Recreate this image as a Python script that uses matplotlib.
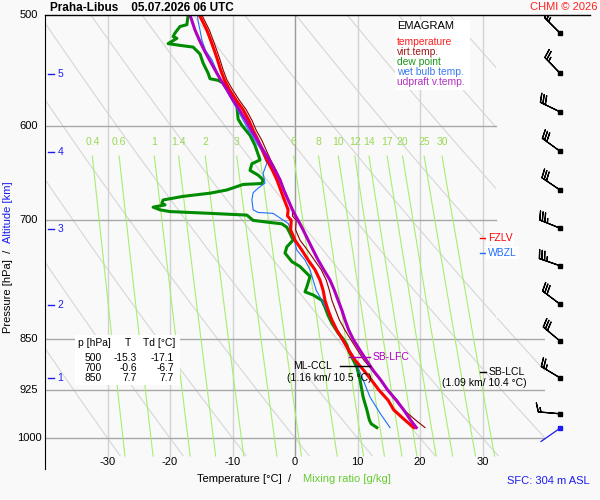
import numpy as np
import matplotlib
matplotlib.use("Agg")
import matplotlib.pyplot as plt
from matplotlib.patches import Polygon, Rectangle
from matplotlib.lines import Line2D
from matplotlib.ticker import NullLocator
from matplotlib.transforms import blended_transform_factory

plt.rcParams['font.family'] = ['Liberation Sans', 'DejaVu Sans']

# ---- sounding ----
P_LEV = [500, 512.5, 521, 530, 538, 547, 556, 565, 575, 584, 594, 604, 614, 624, 634,
         645, 655, 666, 677, 688, 695, 700, 711, 723, 735, 747, 759, 772, 785, 798,
         811, 824, 838, 852, 866, 880, 895, 909, 924, 940, 955, 971, 983]
TEMP = [-15.3, -14.1, -13.5, -12.9, -12.4, -11.9, -11.3, -10.5, -9.4, -8.3, -7.4, -6.7,
        -5.9, -5.2, -4.5, -3.6, -2.9, -2.3, -1.7, -1.1, -1.2, -0.6, -0.7, 0.0, 1.1, 2.1,
        3.2, 4.0, 4.5, 4.8, 5.3, 5.9, 6.7, 7.7, 8.6, 9.6, 11.0, 12.2, 13.4, 14.9, 15.8,
        17.6, 19.0]
VIRT = [-14.9, -13.7, -13.1, -12.5, -12.0, -11.5, -10.9, -10.0, -8.9, -7.8, -6.9, -6.2,
        -5.3, -4.6, -3.9, -3.0, -2.3, -1.7, -1.0, -0.4, -0.4, 0.2, 0.1, 0.8, 2.0, 3.1,
        4.2, 5.0, 5.5, 5.9, 6.5, 7.1, 8.0, 9.0, 10.0, 11.0, 12.4, 13.6, 14.8, 16.4, 17.4,
        19.3, 20.8]
PARCEL = [-16.8, -16.0, -15.3, -14.5, -13.7, -12.8, -11.9, -10.9, -9.9, -8.9, -7.9, -7.0,
          -6.0, -5.1, -4.1, -3.2, -2.4, -1.8, -1.1, -0.4, 0.1, 0.5, 1.3, 2.1, 2.9, 3.7,
          4.6, 5.6, 6.3, 6.9, 7.5, 8.0, 8.6, 9.4, 10.4, 11.4, 12.5, 13.7, 14.8, 16.2, 17.4,
          18.5, 19.4]

TW_P = [500, 505.5, 512.5, 521, 530, 538, 547, 556, 565, 575, 584, 594, 604, 614, 624,
        637.5, 648, 658.5, 664, 669, 677, 688, 691, 692, 703.5, 715, 735, 747, 759, 772,
        785, 798, 811, 824, 838, 852, 866, 884, 909, 935, 960, 983]
WETBULB = [-15.6, -15.5, -15.2, -14.9, -14.3, -13.3, -12.6, -11.9, -11.0, -10.1, -9.2,
           -8.3, -7.4, -6.4, -5.4, -4.5, -5.1, -4.8, -5.9, -6.7, -6.9, -6.7, -5.9, -3.5,
           -1.1, -0.4, 0.3, 1.6, 2.4, 2.9, 3.4, 4.3, 5.1, 5.8, 6.6, 7.5, 8.5, 9.8, 10.9,
           12.0, 13.6, 15.2]

TD_P = [500, 508, 509.5, 515, 518, 519.5, 524, 525.5, 527, 533, 541, 550, 555, 556.5,
        559, 573.5, 580, 593, 599, 609, 619, 634, 638, 645, 650, 655, 659, 660, 666,
        669.5, 673, 677, 680.5, 682.5, 685, 688, 690, 692, 694, 700, 702, 704, 708, 715,
        723, 731, 738.5, 749, 755, 767.5, 780.5, 787, 791, 798, 807, 818, 828.5, 842,
        850, 858.5, 869, 876, 890.5, 909, 935, 955, 971, 977, 983]
DEWP = [-17.1, -17.3, -18.4, -19.2, -19.5, -18.9, -20.3, -18.4, -16.3, -15.2, -14.7,
        -13.9, -13.6, -12.3, -11.5, -9.9, -9.3, -9.1, -8.5, -7.2, -6.4, -5.6, -6.9, -7.2,
        -5.9, -5.1, -5.3, -8.3, -10.9, -13.6, -17.9, -21.1, -21.3, -20.8, -22.7, -21.6,
        -20.0, -13.6, -7.7, -6.7, -4.5, -2.1, -1.3, -0.8, -0.3, -1.3, -1.6, -0.5, 0.8,
        2.4, 1.9, 1.6, 2.9, 4.3, 4.8, 5.3, 5.9, 6.9, 7.7, 8.3, 8.7, 9.1, 9.9, 10.4, 10.9,
        11.5, 11.9, 12.2, 13.1]

WIND_P = [515, 550, 586, 625, 666, 709, 754, 803, 853, 906, 961]
WIND_DIR = [315, 316, 296, 306, 304, 292, 289, 307, 310, 301, 275]
WIND_KT = [25, 25, 30, 30, 30, 35, 35, 30, 30, 25, 15]
SFC_P = 984
SFC_DIR = 235

ALT_KM = [1, 2, 3, 4, 5]
ALT_P = [907, 804, 710, 626, 551]

TAB_P = [500, 700, 850]
TAB_T = [-15.3, -0.6, 7.7]
TAB_TD = [-17.1, -6.7, 7.7]

P_LINES = [600, 700, 850, 925, 1000]
T_TICKS = [-30, -20, -10, 0, 10, 20, 30]
MR_VALUES = [0.4, 0.6, 1, 1.4, 2, 3, 4, 6, 8, 10, 12, 14, 17, 20, 25, 30]
MR_HIDDEN = [4]
MOIST_T1000 = [-10, 0, 10, 20, 30, 40]

FZLV_P, WBZL_P = 721, 738
LFC_P, CCL_P, LCL_P = 876, 889, 897

# ---- layout ----
W, H = 600, 500
BG = '#f9f9f9'
T_MIN, T_MAX = -40.0, 40.0
P_TOP, P_BOT = 500.0, 1052.0
P_END = 1030.0
T_EDGE = 32.2

C_T, C_TV, C_TD = '#ff0000', '#8b0000', '#008c00'
C_TW, C_PAR = '#1f6fff', '#b000c0'
C_MR, C_MRLAB = '#a8ee70', '#99d955'
C_ALT = '#1c1cf0'


def ftext(x, y, s, **kw):
    kw.setdefault('fontsize', 8)
    kw.setdefault('va', 'center')
    return fig.text(x / W, 1 - y / H, s, **kw)


def dewpoint_from_mr(w, p):
    e = w * p / (622.0 + w)
    a = np.log(e / 6.112)
    return 243.5 * a / (17.67 - a)


def moist_adiabat(t1000, p_end, step):
    def dtdp(T, p):
        tc = T - 273.15
        es = 6.112 * np.exp(17.67 * tc / (tc + 243.5))
        rs = 0.622 * es / (p - es)
        num = 287.04 * T + 2.501e6 * rs
        den = 1005.7 + 2.501e6 ** 2 * rs * 0.622 / (287.04 * T ** 2)
        return num / (den * p)
    ps, ts = [1000.0], [t1000 + 273.15]
    p, T = 1000.0, t1000 + 273.15
    while (p - p_end) * np.sign(-step) < 0:
        k1 = dtdp(T, p)
        k2 = dtdp(T + k1 * step / 2, p + step / 2)
        T += k2 * step
        p += step
        ps.append(p)
        ts.append(T)
    return np.array(ts) - 273.15, np.array(ps)


fig = plt.figure(figsize=(6, 5), dpi=100, facecolor=BG)
ax = fig.add_axes([45 / W, 1 - 469 / H, 500 / W, 454 / H])
ax.set_facecolor(BG)
ax.set_yscale('log')
ax.set_xlim(T_MIN, T_MAX)
ax.set_ylim(P_BOT, P_TOP)
for side in ('top', 'right', 'bottom'):
    ax.spines[side].set_visible(False)
ax.spines['left'].set_color('black')
ax.set_xticks([])
ax.set_yticks([])
ax.yaxis.set_minor_locator(NullLocator())

clip = Polygon([(T_MIN, P_TOP), (T_EDGE, P_TOP), (T_EDGE, 822), (T_MAX, 822),
                (T_MAX, P_END), (T_MIN, P_END)], closed=True, transform=ax.transData)

# dry adiabats
p_line = np.geomspace(P_TOP, P_END, 150)
for th in range(-30, 180, 10):
    t = (th + 273.15) * (p_line / 1000.0) ** 0.2857 - 273.15
    ln, = ax.plot(t, p_line, color='#d6d6d6', lw=0.8, zorder=1)
    ln.set_clip_path(clip)

# saturated adiabats
for t0 in MOIST_T1000:
    tu, pu = moist_adiabat(t0, P_TOP, -2.0)
    td, pd = moist_adiabat(t0, P_END, 2.0)
    t = np.concatenate([tu[::-1], td[1:]])
    p = np.concatenate([pu[::-1], pd[1:]])
    ln, = ax.plot(t, p, color='#d6d6d6', lw=0.8, zorder=1)
    ln.set_clip_path(clip)

# mixing ratio lines
p_mr = np.geomspace(630, P_END, 60)
for w in MR_VALUES:
    ax.plot(dewpoint_from_mr(w, p_mr), p_mr, color=C_MR, lw=0.8, zorder=1.5)
    if w not in MR_HIDDEN:
        ax.text(dewpoint_from_mr(w, 630.0), 616, f'{w:g}', color=C_MRLAB, fontsize=7.5,
                ha='center', va='center', zorder=1.5)

# isotherms and isobars
for t in T_TICKS:
    ax.plot([t, t], [P_TOP, P_END], color='#9a9a9a' if t == 0 else '#d2d2d2',
            lw=1.0, zorder=1.2)
for p in P_LINES:
    ax.plot([T_MIN, T_EDGE if p < 800 else T_MAX], [p, p], color='#a8a8a8', lw=1.0,
            zorder=1.3)

# profiles
ax.plot(DEWP, TD_P, color=C_TD, lw=2.2, zorder=3)
ax.plot(WETBULB, TW_P, color=C_TW, lw=0.8, zorder=3.2)
ax.plot(VIRT, P_LEV, color=C_TV, lw=0.8, zorder=3.4)
ax.plot(TEMP, P_LEV, color=C_T, lw=2.2, zorder=3.6)
ax.plot(PARCEL, P_LEV, color=C_PAR, lw=2.2, zorder=3.8)

# levels
ax.plot([29.6, 30.6], [FZLV_P] * 2, color=C_T, lw=1, zorder=4)
ax.text(30.9, FZLV_P, 'FZLV', color=C_T, fontsize=7.5, va='center', zorder=4,
        bbox=dict(facecolor='white', edgecolor='none', pad=1.2))
ax.plot([29.6, 30.6], [WBZL_P] * 2, color=C_TW, lw=1, zorder=4)
ax.text(30.9, WBZL_P, 'WBZL', color=C_TW, fontsize=7.5, va='center', zorder=4,
        bbox=dict(facecolor='white', edgecolor='none', pad=1.2))
ax.plot([8.6, 12.0], [LFC_P] * 2, color=C_PAR, lw=1, zorder=4)
ax.text(12.4, LFC_P, 'SB-LFC', color=C_PAR, fontsize=7.5, va='center', zorder=4)
ax.plot([7.2, 12.0], [CCL_P] * 2, color='black', lw=1, zorder=4)
ax.text(5.9, CCL_P, 'ML-CCL', color='black', fontsize=7.5, ha='right', va='center',
        zorder=4)
ax.text(5.5, 906, '(1.16 km/ 10.5 °C)', color='black', fontsize=7.5, ha='center',
        va='center', zorder=4)
ax.plot([29.6, 30.6], [LCL_P] * 2, color='black', lw=1, zorder=4)
ax.text(30.9, LCL_P, 'SB-LCL', color='black', fontsize=7.5, va='center', zorder=4)
ax.text(30.3, 913, '(1.09 km/ 10.4 °C)', color='black', fontsize=7.5, ha='center',
        va='center', zorder=4)

# axis labels drawn as text
for t in T_TICKS:
    ax.text(t, 1040, str(t), fontsize=8, ha='center', va='center')
ytr = blended_transform_factory(fig.transFigure, ax.transData)
for p in [500] + P_LINES:
    ax.text(29 / W, p, str(p), transform=ytr, fontsize=8, ha='center', va='center')
atr = blended_transform_factory(ax.transAxes, ax.transData)
for km, p in zip(ALT_KM, ALT_P):
    ax.plot([0.006, 0.017], [p, p], color=C_ALT, lw=1, transform=atr, clip_on=False)
    ax.text(0.025, p, str(km), color=C_ALT, fontsize=7.5, va='center', transform=atr)

ftext(50, 8, 'Praha-Libus    05.07.2026 06 UTC', fontweight='bold', fontsize=8.5)
ftext(597, 7, 'CHMI © 2026', ha='right', color='#ff2020')
ftext(590, 481, 'SFC: 304 m ASL', ha='right', color=C_ALT)
ftext(8, 333, 'Pressure [hPa]  /', rotation=90, va='bottom', ha='center')
ftext(8, 243, 'Altitude [km]', rotation=90, va='bottom', ha='center', color=C_ALT)
ftext(197, 479, 'Temperature [°C]  /')
ftext(303, 479, 'Mixing ratio [g/kg]', color='#66cc33')
fig.add_artist(Line2D([45 / W, 590 / W], [1 - 15 / H] * 2, color='black', lw=1))

# legend box
fig.add_artist(Rectangle((395 / W, 1 - 90 / H), 75 / W, 70 / H, transform=fig.transFigure,
                         facecolor='white', edgecolor='none', zorder=2))
ftext(397, 26, 'EMAGRAM', zorder=3)
for i, (lab, col) in enumerate([('temperature', '#ff2020'), ('virt.temp.', '#a01818'),
                                ('dew point', '#1a961a'), ('wet bulb temp.', '#3a7af0'),
                                ('udpraft v.temp.', '#b030c0')]):
    ftext(397, 42 + 10 * i, lab, color=col, fontsize=7.4, zorder=3)

# value table
fig.add_artist(Rectangle((75 / W, 1 - 385 / H), 105 / W, 50 / H, transform=fig.transFigure,
                         facecolor='white', edgecolor='none', zorder=2))
ftext(78, 343, 'p [hPa]', fontsize=7.4, zorder=3)
ftext(128, 343, 'T', fontsize=7.4, ha='center', zorder=3)
ftext(143, 343, 'Td [°C]', fontsize=7.4, zorder=3)
for i, (p, t, td) in enumerate(zip(TAB_P, TAB_T, TAB_TD)):
    y = 358 + 10 * i
    ftext(102, y, str(p), fontsize=7.4, ha='right', zorder=3)
    ftext(137, y, f'{t:.1f}', fontsize=7.4, ha='right', zorder=3)
    ftext(174, y, f'{td:.1f}', fontsize=7.4, ha='right', zorder=3)

# wind barbs
axw = fig.add_axes([520 / W, 1 - 469 / H, 70 / W, 454 / H])
axw.set_yscale('log')
axw.set_ylim(P_BOT, P_TOP)
axw.set_xlim(0, 1)
axw.axis('off')
xb = 40 / 70
rad = np.deg2rad(WIND_DIR)
u = -np.array(WIND_KT) * np.sin(rad)
v = -np.array(WIND_KT) * np.cos(rad)
axw.barbs(np.full(len(WIND_P), xb), WIND_P, u, v, length=5.6, linewidth=0.9,
          color='black')
axw.plot(np.full(len(WIND_P), xb), WIND_P, 's', ms=2.2, color='black')
sr = np.deg2rad(SFC_DIR)
axw.annotate('', xy=(xb, SFC_P), xytext=(16.8 * np.sin(sr), 16.8 * np.cos(sr)),
             textcoords='offset points',
             arrowprops=dict(arrowstyle='-', color='#1c1cf0', lw=0.9, shrinkA=0, shrinkB=0))
axw.plot([xb], [SFC_P], 's', ms=2.2, color='#1c1cf0')

fig.savefig('out.png', dpi=100, facecolor=BG)
